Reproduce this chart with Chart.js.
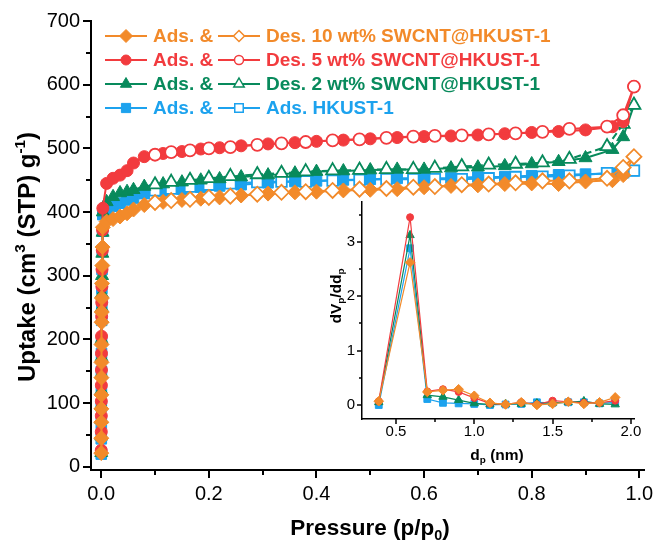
<!DOCTYPE html>
<html lang="en">
<head>
  <meta charset="UTF-8" />
  <title>N2 isotherms - SWCNT@HKUST-1</title>
  <script src="https://cdn.jsdelivr.net/npm/chart.js"></script>
  <style>
    html, body { margin: 0; padding: 0; background: #fff; }
    .wrap { position: relative; width: 654px; height: 542px; }
    #mainChart { position: absolute; left: 0; top: 0; }
    #insetChart { position: absolute; left: 300px; top: 190px; }
  </style>
</head>
<body>
  <div class="wrap">
    <canvas id="mainChart" width="654" height="542"></canvas>
    <canvas id="insetChart" width="354" height="280"></canvas>
  </div>

  <script>
    // ---- main isotherm data (p/p0, uptake) ----
    const adsP = [0.00005, 0.0001, 0.00015, 0.0002, 0.0003, 0.0004, 0.0005, 0.0006, 0.0008, 0.001,
      0.0012, 0.0015, 0.002, 0.0025, 0.003,
      0.01, 0.022, 0.035, 0.048, 0.06,
      0.08, 0.115, 0.15, 0.185, 0.22, 0.26, 0.31, 0.36, 0.40, 0.45, 0.50,
      0.55, 0.60, 0.65, 0.70, 0.75, 0.80, 0.85, 0.90, 0.95, 0.97, 0.99];
    const desP = [0.99, 0.97, 0.94, 0.87, 0.82, 0.77, 0.72, 0.67, 0.62, 0.58, 0.53,
      0.48, 0.43, 0.38, 0.335, 0.29, 0.24, 0.20, 0.165, 0.13, 0.10];

    const ads10 = [21.5, 45, 70, 91, 113, 140, 164, 192, 227, 243, 265, 288, 316, 345, 376,
      385, 389, 393, 398, 404,
      411, 416, 419, 421, 423, 426, 429, 431, 432, 434, 435, 436, 439, 441, 442, 444, 445, 444, 448, 450, 458, 487];
    const des10 = [487, 470, 453, 449, 449, 446, 444, 443, 440, 439, 437, 436, 434, 432, 431, 428, 425, 423, 420, 418, 415];

    const ads5 = [26, 55, 80, 103, 128, 152, 178, 205, 236, 258, 283, 310, 340, 372, 406,
      445, 453, 458, 465, 477,
      487, 492, 495, 499, 501, 504, 507, 509, 511, 513, 515, 517, 518.5, 519.5, 521, 523, 525, 526.5, 529, 534, 542, 597];
    const des5 = [597, 552, 534, 530.5, 526, 523.5, 522, 520.5, 519.5, 518.5, 516.5, 514, 512.5, 510, 508, 505.5, 502, 500, 497, 494, 490];

    const ads2 = [22, 48, 74, 97, 120, 146, 172, 200, 232, 250, 272, 300, 335, 368, 400,
      416, 424, 430, 432, 435,
      440, 444, 447, 450, 452, 455, 458, 461, 463.5, 464.5, 466, 467, 467, 469, 470.5, 472.5, 475.5, 479, 485, 498, 518, 568];
    const des2 = [568, 538, 503, 483, 477.5, 475.5, 474, 471.5, 469, 467, 467, 466, 465, 463.5, 461, 459, 456, 453, 450, 447, 443];

    const adsH = [20, 44, 68, 95, 118, 150, 178, 198, 230, 255, 280, 310, 340, 370, 396,
      403, 409, 414, 419, 422,
      429, 433, 436, 439, 441, 443, 446, 448, 449, 450.5, 451.5, 453, 453, 453.5, 455, 455.5, 457, 458.5, 459.5, 461, 462, 465];
    const desH = [465, 463, 461, 457, 455.5, 455, 453, 451.5, 451.5, 451.5, 451.5, 450.5, 449.5, 448, 448, 447, 445, 443, 440, 437, 434];

    // ---- inset: pore size distribution ----
    const poreD = [0.39, 0.59, 0.7, 0.8, 0.9, 1.0, 1.1, 1.2, 1.3, 1.4, 1.5, 1.6, 1.7, 1.8, 1.9];
    const psd5 = [0.07, 3.45, 0.25, 0.29, 0.24, 0.13, 0.03, 0.01, 0.05, 0.01, 0.08, 0.06, 0.04, 0.04, 0.08];
    const psd2 = [0.05, 3.12, 0.18, 0.15, 0.09, 0.03, 0.01, 0.02, 0.02, 0.03, 0.04, 0.05, 0.07, 0.02, 0.01];
    const psdH = [0.0, 2.88, 0.11, 0.04, 0.03, 0.02, 0.0, 0.01, 0.02, 0.05, 0.04, 0.05, 0.05, 0.03, 0.05];
    const psd10 = [0.07, 2.62, 0.24, 0.27, 0.29, 0.17, 0.04, 0.01, 0.05, 0.0, 0.02, 0.06, 0.02, 0.05, 0.14];

    // ---- ticks and labels ----
    const xTicks = [0, 0.2, 0.4, 0.6, 0.8, 1.0];
    const xMinor = [0.1, 0.3, 0.5, 0.7, 0.9];
    const yTicks = [0, 100, 200, 300, 400, 500, 600, 700];
    const yMinor = [50, 150, 250, 350, 450, 550, 650];
    const insetXTicks = [0.5, 1.0, 1.5, 2.0];
    const insetXMinor = [0.75, 1.25, 1.75];
    const insetYTicks = [0, 1, 2, 3];
    const insetYMinor = [0.5, 1.5, 2.5, 3.5];

    const legendLabels = ['Des. 10 wt% SWCNT@HKUST-1', 'Des. 5 wt% SWCNT@HKUST-1',
      'Des. 2 wt% SWCNT@HKUST-1', 'Ads. HKUST-1'];

    const ORANGE = '#F28A2A', RED = '#F23B3E', GREEN = '#088A5C', BLUE = '#1CA2EE';
    const FONT = '"Liberation Sans", Arial, sans-serif';

    const pts = (xs, ys) => xs.map((x, i) => ({ x: x, y: ys[i] }));

    function series(xs, ys, color, style, radius, open, opts) {
      opts = opts || {};
      return {
        data: pts(xs, ys),
        borderColor: color,
        borderWidth: opts.lw || 2,
        borderDash: opts.dash || [],
        pointStyle: style,
        pointRadius: radius,
        pointHoverRadius: radius,
        pointBorderWidth: open ? (opts.obw || 1.8) : 1,
        pointBorderColor: color,
        pointBackgroundColor: open ? '#fff' : color,
        tension: 0,
        fill: false
      };
    }

    // draw a small marker for the legend
    function marker(ctx, style, x, y, r, color, open) {
      ctx.beginPath();
      if (style === 'circle') {
        ctx.arc(x, y, r, 0, Math.PI * 2);
      } else if (style === 'rectRot') {
        ctx.moveTo(x, y - r); ctx.lineTo(x + r, y); ctx.lineTo(x, y + r); ctx.lineTo(x - r, y); ctx.closePath();
      } else if (style === 'triangle') {
        ctx.moveTo(x, y - r); ctx.lineTo(x + r * 0.866, y + r * 0.5); ctx.lineTo(x - r * 0.866, y + r * 0.5); ctx.closePath();
      } else {
        const h = r * 0.707;
        ctx.rect(x - h, y - h, 2 * h, 2 * h);
      }
      ctx.fillStyle = open ? '#fff' : color;
      ctx.fill();
      ctx.strokeStyle = color;
      ctx.lineWidth = open ? 1.5 : 1;
      ctx.stroke();
    }

    // text with sub/superscripts: parts = [[text, shift]], shift 1 = sup, -1 = sub
    function richText(ctx, parts, x, y, size, rotate) {
      ctx.save();
      ctx.translate(x, y);
      if (rotate) ctx.rotate(-Math.PI / 2);
      ctx.fillStyle = '#000';
      ctx.textBaseline = 'alphabetic';
      ctx.textAlign = 'left';
      const small = size * 0.64;
      let total = 0;
      const widths = parts.map(p => {
        ctx.font = 'bold ' + (p[1] ? small : size) + 'px ' + FONT;
        const w = ctx.measureText(p[0]).width;
        total += w;
        return w;
      });
      let cx = -total / 2;
      parts.forEach((p, i) => {
        ctx.font = 'bold ' + (p[1] ? small : size) + 'px ' + FONT;
        const dy = p[1] === 1 ? -size * 0.4 : (p[1] === -1 ? size * 0.2 : 0);
        ctx.fillText(p[0], cx, size * 0.36 + dy);
        cx += widths[i];
      });
      ctx.restore();
    }

    // tick marks (major + minor) pointing outward
    function tickPlugin(cfg) {
      return {
        id: 'tickMarks',
        afterDraw(chart) {
          const ctx = chart.ctx, a = chart.chartArea;
          const sx = chart.scales.x, sy = chart.scales.y;
          ctx.save();
          ctx.strokeStyle = '#000';
          ctx.lineWidth = cfg.width;
          const seg = (x1, y1, x2, y2) => { ctx.beginPath(); ctx.moveTo(x1, y1); ctx.lineTo(x2, y2); ctx.stroke(); };
          cfg.xMajor.forEach(v => { const p = Math.round(sx.getPixelForValue(v)); seg(p, a.bottom, p, a.bottom + cfg.major); });
          cfg.xMinor.forEach(v => { const p = Math.round(sx.getPixelForValue(v)); seg(p, a.bottom, p, a.bottom + cfg.minor); });
          cfg.yMajor.forEach(v => { const p = Math.round(sy.getPixelForValue(v)); seg(a.left, p, a.left - cfg.major, p); });
          cfg.yMinor.forEach(v => { const p = Math.round(sy.getPixelForValue(v)); seg(a.left, p, a.left - cfg.minor, p); });
          ctx.restore();
        }
      };
    }

    const mainDecor = {
      id: 'mainDecor',
      afterDraw(chart) {
        const ctx = chart.ctx;
        // axis titles
        richText(ctx, [['Uptake (cm', 0], ['3', 1], [' (STP) g', 0], ['-1', 1], [')', 0]], 26, 257, 24, true);
        richText(ctx, [['Pressure (p/p', 0], ['0', -1], [')', 0]], 370, 527, 22.5, false);

        // legend
        const rows = [
          { color: ORANGE, style: 'rectRot', rf: 6.5, ro: 5.5 },
          { color: RED, style: 'circle', rf: 5, ro: 4.5 },
          { color: GREEN, style: 'triangle', rf: 6.5, ro: 6 },
          { color: BLUE, style: 'rect', rf: 6.5, ro: 6 }
        ];
        ctx.save();
        rows.forEach((r, i) => {
          const y = 36 + i * 24;
          ctx.strokeStyle = r.color;
          ctx.lineWidth = 2;
          ctx.beginPath(); ctx.moveTo(105, y); ctx.lineTo(147, y); ctx.stroke();
          marker(ctx, r.style, 126, y, r.rf, r.color, false);
          ctx.strokeStyle = r.color;
          ctx.lineWidth = 2;
          ctx.beginPath(); ctx.moveTo(218, y); ctx.lineTo(260, y); ctx.stroke();
          marker(ctx, r.style, 239, y, r.ro, r.color, true);
          ctx.fillStyle = r.color;
          ctx.font = 'bold 19px ' + FONT;
          ctx.textBaseline = 'middle';
          ctx.textAlign = 'left';
          ctx.fillText('Ads. &', 153, y + 1);
          ctx.fillText(legendLabels[i], 266, y + 1);
        });
        ctx.restore();
      }
    };

    const insetDecor = {
      id: 'insetDecor',
      afterDraw(chart) {
        const ctx = chart.ctx;
        richText(ctx, [['dV', 0], ['p', -1], ['/dd', 0], ['p', -1]], 35, 106, 15.5, true);
        richText(ctx, [['d', 0], ['p', -1], [' (nm)', 0]], 197, 264, 15.5, false);
      }
    };

    function axis(cfg) {
      return {
        type: 'linear',
        min: cfg.min,
        max: cfg.max,
        grid: { display: false, drawTicks: false },
        border: { display: true, color: '#000', width: cfg.bw },
        ticks: {
          color: '#000',
          font: { family: FONT, size: cfg.fs },
          padding: cfg.pad,
          autoSkip: false,
          maxRotation: 0,
          callback: cfg.fmt
        },
        afterBuildTicks: s => { s.ticks = cfg.ticks.map(v => ({ value: v })); },
        afterFit: s => {
          if (cfg.w) s.width = cfg.w;
          if (cfg.h) s.height = cfg.h;
          // keep the plot area fixed, labels may overhang
          s.paddingLeft = 0; s.paddingRight = 0; s.paddingTop = 0; s.paddingBottom = 0;
        }
      };
    }

    new Chart(document.getElementById('mainChart'), {
      type: 'line',
      data: {
        datasets: [
          series(desP, des10, ORANGE, 'rectRot', 7.5, true),
          series(adsP, ads10, ORANGE, 'rectRot', 7.5, false),
          series(desP, des5, RED, 'circle', 6, true),
          series(adsP, ads5, RED, 'circle', 6, false),
          series(desP, des2, GREEN, 'triangle', 7.5, true, { dash: [7, 4] }),
          series(adsP, ads2, GREEN, 'triangle', 7.5, false),
          series(desP, desH, BLUE, 'rect', 7.5, true),
          series(adsP, adsH, BLUE, 'rect', 7.5, false)
        ]
      },
      options: {
        responsive: false,
        animation: false,
        devicePixelRatio: 1,
        layout: { padding: { left: 0, right: 9, top: 21, bottom: 0 } },
        plugins: { legend: { display: false }, tooltip: { enabled: false } },
        scales: {
          x: axis({ min: -0.019, max: 1.01, ticks: xTicks, fs: 20, pad: 12, bw: 2, h: 72, fmt: v => v.toFixed(1) }),
          y: axis({ min: -5, max: 700, ticks: yTicks, fs: 20, pad: 11, bw: 2, w: 91, fmt: v => String(v) })
        }
      },
      plugins: [tickPlugin({ xMajor: xTicks, xMinor: xMinor, yMajor: yTicks, yMinor: yMinor, major: 8, minor: 5, width: 2 }), mainDecor]
    });

    new Chart(document.getElementById('insetChart'), {
      type: 'line',
      data: {
        datasets: [
          series(poreD, psd10, ORANGE, 'rectRot', 4.8, false, { lw: 1.2 }),
          series(poreD, psd5, RED, 'circle', 3.5, false, { lw: 1.2 }),
          series(poreD, psd2, GREEN, 'triangle', 4.8, false, { lw: 1.2 }),
          series(poreD, psdH, BLUE, 'rect', 4.8, false, { lw: 1.2 })
        ]
      },
      options: {
        responsive: false,
        animation: false,
        devicePixelRatio: 1,
        layout: { padding: { left: 0, right: 20, top: 12, bottom: 0 } },
        plugins: { legend: { display: false }, tooltip: { enabled: false } },
        scales: {
          x: axis({ min: 0.283, max: 2.02, ticks: insetXTicks, fs: 15, pad: 4, bw: 1.5, h: 51, fmt: v => v.toFixed(1) }),
          y: axis({ min: -0.257, max: 3.73, ticks: insetYTicks, fs: 15, pad: 7, bw: 1.5, w: 62, fmt: v => String(v) })
        }
      },
      plugins: [tickPlugin({ xMajor: insetXTicks, xMinor: insetXMinor, yMajor: insetYTicks, yMinor: insetYMinor, major: 5, minor: 3, width: 1.5 }), insetDecor]
    });
  </script>
</body>
</html>
